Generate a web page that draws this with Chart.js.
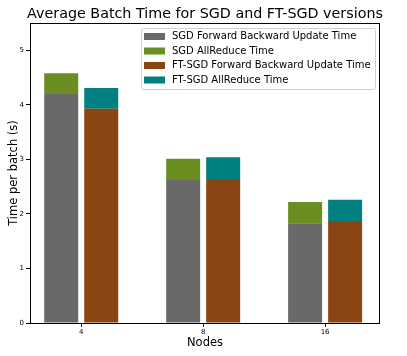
<!DOCTYPE html>
<html>
<head>
<meta charset="utf-8">
<script src="https://cdn.jsdelivr.net/npm/chart.js"></script>
<style>
  html, body { margin: 0; padding: 0; background: #fff; }
  #wrap { width: 407px; height: 356px; }
</style>
</head>
<body>
<div id="wrap"><canvas id="myChart" width="407" height="356"></canvas></div>
<script>
// data
const nodes = ["4", "8", "16"];
const sgdCompute = [4.20, 2.62, 1.83];
const sgdAllReduce = [0.38, 0.39, 0.39];
const ftCompute = [3.93, 2.64, 1.87];
const ftAllReduce = [0.38, 0.40, 0.39];
const yTicks = [0, 1, 2, 3, 4, 5];

const title = "Average Batch Time for SGD and FT-SGD versions";
const font = "'DejaVu Sans', sans-serif";

function points(values) {
  return values.map((v, i) => ({ x: i, y: v }));
}

// title centred on the plot, legend box inside the plot top right, and the frame
const framePlugin = {
  id: "frame",
  afterDraw(chart) {
    const ctx = chart.ctx;
    const a = chart.chartArea;
    ctx.save();
    ctx.strokeStyle = "#000";
    ctx.lineWidth = 1;
    ctx.strokeRect(a.left + 0.5, a.top + 0.5, a.right - a.left - 1, a.bottom - a.top);

    ctx.fillStyle = "#000";
    ctx.font = "14.3px " + font;
    ctx.textAlign = "center";
    ctx.textBaseline = "middle";
    ctx.fillText(title, (a.left + a.right) / 2, 14);

    const x0 = 141, y0 = 28, w = 234, h = 61;
    ctx.fillStyle = "rgba(255,255,255,0.8)";
    ctx.strokeStyle = "#d0d0d0";
    ctx.beginPath();
    ctx.roundRect(x0 + 0.5, y0 + 0.5, w, h, 2);
    ctx.fill();
    ctx.stroke();

    ctx.font = "10px " + font;
    ctx.textAlign = "left";
    chart.data.datasets.forEach((ds, i) => {
      const y = y0 + 8 + i * 14.5;
      ctx.fillStyle = ds.backgroundColor;
      ctx.fillRect(x0 + 3, y - 3, 21, 7);
      ctx.fillStyle = "#000";
      ctx.fillText(ds.label, x0 + 31, y + 0.5);
    });
    ctx.restore();
  }
};

new Chart("myChart", {
  type: "bar",
  data: {
    datasets: [
      { label: "SGD Forward Backward Update Time", data: points(sgdCompute), backgroundColor: "#696969", stack: "sgd" },
      { label: "SGD AllReduce Time", data: points(sgdAllReduce), backgroundColor: "#6b8e23", stack: "sgd" },
      { label: "FT-SGD Forward Backward Update Time", data: points(ftCompute), backgroundColor: "#8b4513", stack: "ft" },
      { label: "FT-SGD AllReduce Time", data: points(ftAllReduce), backgroundColor: "#008080", stack: "ft" }
    ]
  },
  options: {
    responsive: false,
    animation: false,
    barPercentage: 0.85,
    categoryPercentage: 0.656,
    layout: { padding: { left: 0, right: 27, top: 23, bottom: 0 } },
    plugins: {
      legend: { display: false },
      tooltip: { enabled: false },
      title: { display: false }
    },
    scales: {
      x: {
        type: "linear",
        offset: false,
        min: -0.42,
        max: 2.45,
        afterFit(scale) { scale.height = 33; },
        afterBuildTicks(scale) { scale.ticks = nodes.map((n, i) => ({ value: i })); },
        border: { display: false },
        grid: { offset: false, drawOnChartArea: false, drawTicks: true, tickLength: 4, color: "#000" },
        ticks: {
          color: "#000",
          padding: 1,
          maxRotation: 0,
          font: { family: font, size: 7 },
          callback: (v) => nodes[v]
        },
        title: {
          display: true,
          text: "Nodes",
          color: "#000",
          font: { family: font, size: 11.5 },
          padding: { top: 0, bottom: 6 }
        }
      },
      y: {
        stacked: true,
        min: 0,
        max: 5.5,
        afterFit(scale) { scale.width = 30; },
        afterBuildTicks(scale) { scale.ticks = yTicks.map(v => ({ value: v })); },
        border: { display: false },
        grid: { drawOnChartArea: false, drawTicks: true, tickLength: 4, color: "#000" },
        ticks: {
          color: "#000",
          padding: 2,
          font: { family: font, size: 7 }
        },
        title: {
          display: true,
          text: "Time per batch (s)",
          color: "#000",
          font: { family: font, size: 11.5 },
          padding: { top: 7, bottom: 0 }
        }
      }
    }
  },
  plugins: [framePlugin]
});
</script>
</body>
</html>
